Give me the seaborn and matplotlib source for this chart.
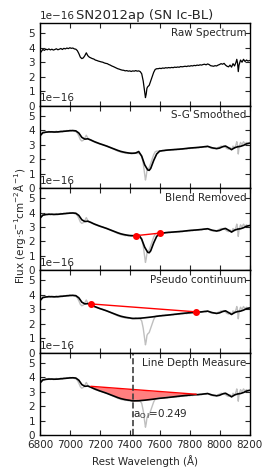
import numpy as np
import seaborn as sns
import matplotlib
matplotlib.use("Agg")
import matplotlib.pyplot as plt
from matplotlib.ticker import MultipleLocator

# raw spectrum (flux in 1e-16 erg/s/cm2/A)
raw_wave = [6800, 6810, 6820, 6830, 6840, 6850, 6860, 6870, 6880, 6890,
            6900, 6910, 6920, 6930, 6940, 6950, 6960, 6970, 6980, 6990,
            7000, 7010, 7020, 7030, 7040, 7050, 7060, 7070, 7080, 7090,
            7100, 7110, 7120, 7130, 7140, 7150, 7160, 7170, 7180, 7190,
            7200, 7210, 7220, 7230, 7240, 7250, 7260, 7270, 7280, 7290,
            7300, 7310, 7320, 7330, 7340, 7350, 7360, 7370, 7380, 7390,
            7400, 7410, 7420, 7430, 7440, 7450, 7460, 7470, 7480, 7490,
            7500, 7505, 7510, 7515, 7520, 7530, 7540, 7550, 7560, 7570,
            7580, 7590, 7600, 7610, 7620, 7630, 7640, 7650, 7660, 7670,
            7680, 7690, 7700, 7710, 7720, 7730, 7740, 7750, 7760, 7770,
            7780, 7790, 7800, 7810, 7820, 7830, 7840, 7850, 7860, 7870,
            7880, 7890, 7900, 7910, 7920, 7930, 7940, 7950, 7960, 7970,
            7980, 7990, 8000, 8010, 8020, 8030, 8040, 8050, 8060, 8070,
            8080, 8090, 8100, 8110, 8115, 8120, 8125, 8130, 8140, 8150,
            8160, 8170, 8180, 8190, 8200]
raw_flux = [3.60, 3.75, 3.88, 3.82, 3.90, 3.86, 3.92, 3.85, 3.90, 3.84,
            3.88, 3.93, 3.86, 3.90, 3.95, 3.88, 3.96, 3.92, 3.98, 3.94,
            4.00, 3.96, 3.98, 3.92, 3.90, 3.80, 3.60, 3.35, 3.25, 3.30,
            3.45, 3.65, 3.45, 3.35, 3.30, 3.25, 3.22, 3.15, 3.12, 3.08,
            3.05, 3.02, 3.00, 2.95, 2.92, 2.90, 2.84, 2.80, 2.74, 2.70,
            2.65, 2.60, 2.55, 2.52, 2.48, 2.45, 2.44, 2.40, 2.42, 2.38,
            2.40, 2.36, 2.40, 2.38, 2.42, 2.38, 2.40, 2.35, 2.20, 1.70,
            0.90, 0.55, 0.80, 1.20, 1.30, 1.40, 1.70, 2.00, 2.30, 2.50,
            2.55, 2.55, 2.58, 2.56, 2.60, 2.58, 2.62, 2.60, 2.63, 2.61,
            2.64, 2.62, 2.66, 2.64, 2.67, 2.65, 2.70, 2.68, 2.70, 2.72,
            2.70, 2.74, 2.72, 2.76, 2.74, 2.78, 2.76, 2.80, 2.78, 2.82,
            2.80, 2.84, 2.86, 2.82, 2.88, 2.84, 2.76, 2.74, 2.72, 2.76,
            2.74, 2.80, 2.84, 2.90, 2.86, 2.92, 2.80, 2.72, 2.68, 2.80,
            2.66, 2.90, 2.74, 3.00, 3.20, 2.95, 2.35, 2.80, 3.15, 3.00,
            3.20, 3.05, 3.15, 3.08, 3.12]

# Savitzky-Golay smoothed spectrum
sg_wave = [6800, 6820, 6840, 6860, 6880, 6900, 6920, 6940, 6960, 6980,
           7000, 7020, 7040, 7060, 7080, 7100, 7120, 7140, 7160, 7180,
           7200, 7220, 7240, 7260, 7280, 7300, 7320, 7340, 7360, 7380,
           7400, 7420, 7440, 7460, 7480, 7500, 7520, 7530, 7540, 7560,
           7580, 7600, 7620, 7650, 7700, 7750, 7800, 7850, 7880, 7920,
           7950, 7980, 8000, 8020, 8040, 8060, 8080, 8100, 8120, 8140,
           8160, 8180, 8200]
sg_flux = [3.60, 3.82, 3.86, 3.88, 3.88, 3.87, 3.88, 3.90, 3.92, 3.94,
           3.96, 3.97, 3.95, 3.80, 3.50, 3.38, 3.40, 3.32, 3.22, 3.14,
           3.06, 2.99, 2.92, 2.84, 2.76, 2.68, 2.60, 2.53, 2.48, 2.44,
           2.41, 2.40, 2.42, 2.52, 2.20, 1.60, 1.25, 1.22, 1.35, 1.90,
           2.35, 2.55, 2.58, 2.62, 2.66, 2.70, 2.76, 2.80, 2.83, 2.88,
           2.78, 2.72, 2.76, 2.85, 2.90, 2.78, 2.65, 2.78, 2.85, 2.88,
           2.95, 3.05, 3.10]

# feature with the blend removed
blend_wave = [7440, 7460, 7480, 7500, 7520, 7530, 7540, 7560, 7580, 7604]
blend_flux = [2.40, 2.45, 2.15, 1.60, 1.25, 1.22, 1.35, 1.90, 2.35, 2.58]

# pseudo continuum end points
pc_wave = [7140, 7844]
pc_flux = [3.38, 2.83]

# spectrum under the continuum once the feature is fitted out
fit_wave = [7420, 7460, 7500, 7550, 7600, 7650, 7700, 7750, 7800, 7844]
fit_flux = [2.37, 2.38, 2.42, 2.48, 2.55, 2.60, 2.66, 2.72, 2.77, 2.81]

depth_wave = 7420
depth_label = r"a$_{\rm O\,I}$=0.249"
panel_names = ["Raw Spectrum", "S-G Smoothed", "Blend Removed",
               "Pseudo continuum", "Line Depth Measure"]

sns.set_style("ticks")
plt.rcParams.update({
    "font.family": ["DejaVu Sans"],
    "xtick.direction": "in", "ytick.direction": "in",
    "xtick.top": True, "ytick.right": True,
    "xtick.labelsize": 7.5, "ytick.labelsize": 7.5,
    "xtick.major.size": 3.5, "ytick.major.size": 3.5,
    "axes.linewidth": 1.0, "axes.edgecolor": "black",
})

scale = 1e-16
sg_w = np.array(sg_wave)
sg_f = np.array(sg_flux)

# blend removed: smoothed curve with the blended segment swapped
out = (sg_w < blend_wave[0]) | (sg_w > blend_wave[-1])
br_w = np.concatenate([sg_w[out & (sg_w < blend_wave[0])], blend_wave,
                       sg_w[out & (sg_w > blend_wave[-1])]])
br_f = np.concatenate([sg_f[out & (sg_w < blend_wave[0])], blend_flux,
                       sg_f[out & (sg_w > blend_wave[-1])]])

# pseudo continuum panel: feature replaced by fitted trough
lo = sg_w < fit_wave[0]
hi = sg_w > fit_wave[-1]
fc_w = np.concatenate([sg_w[lo], fit_wave, sg_w[hi]])
fc_f = np.concatenate([sg_f[lo], fit_flux, sg_f[hi]])

fig, axes = plt.subplots(5, 1, sharex=True, figsize=(2.66, 4.73), dpi=100)
fig.subplots_adjust(left=0.150, right=0.938, bottom=0.080, top=0.951, hspace=0)

gray = "0.75"
for i, ax in enumerate(axes):
    if i == 0:
        sns.lineplot(x=raw_wave, y=np.array(raw_flux) * scale, ax=ax,
                     color="black", lw=0.9, sort=False, estimator=None)
    else:
        sns.lineplot(x=raw_wave, y=np.array(raw_flux) * scale, ax=ax,
                     color=gray, lw=1.0, sort=False, estimator=None)
    if i == 1:
        sns.lineplot(x=sg_w, y=sg_f * scale, ax=ax, color="black", lw=1.2,
                     sort=False, estimator=None)
    elif i == 2:
        sns.lineplot(x=br_w, y=br_f * scale, ax=ax, color="black", lw=1.2,
                     sort=False, estimator=None)
        ax.plot([blend_wave[0], blend_wave[-1]],
                [blend_flux[0] * scale, blend_flux[-1] * scale],
                color="red", lw=1.0, marker="o", ms=4, mec="red")
    elif i >= 3:
        sns.lineplot(x=fc_w, y=fc_f * scale, ax=ax, color="black", lw=1.2,
                     sort=False, estimator=None)
        if i == 3:
            ax.plot(pc_wave, np.array(pc_flux) * scale, color="red", lw=1.0,
                    marker="o", ms=4, mec="red")
        else:
            m = (fc_w >= pc_wave[0]) & (fc_w <= pc_wave[-1])
            xs = np.concatenate([[pc_wave[0]], fc_w[m], [pc_wave[-1]]])
            ys = np.concatenate([[pc_flux[0]], fc_f[m], [pc_flux[-1]]])
            cont = np.interp(xs, pc_wave, pc_flux)
            ax.fill_between(xs, ys * scale, cont * scale, color="red",
                            alpha=0.5, lw=0)
            ax.plot(pc_wave, np.array(pc_flux) * scale, color="red", lw=1.0)
            ax.axvline(depth_wave, color="0.25", ls="--", lw=1.2)
            ax.text(depth_wave, 1.45 * scale, depth_label, fontsize=7.5,
                    ha="left", va="center")

    ax.set_xlim(6800, 8200)
    ax.set_ylim(0, 5.7 * scale)
    ax.xaxis.set_major_locator(MultipleLocator(200))
    ax.yaxis.set_major_locator(MultipleLocator(1 * scale))
    ax.yaxis.get_offset_text().set_fontsize(7.5)
    ax.set_xlabel("")
    ax.set_ylabel("")
    ax.text(0.985, 0.88, panel_names[i], transform=ax.transAxes,
            ha="right", va="center", fontsize=7.5)

axes[0].set_title("SN2012ap (SN Ic-BL)", fontsize=9.5, pad=3)
axes[-1].set_xlabel("Rest Wavelength (\u00c5)", fontsize=7.5, labelpad=4)
fig.text(0.075, 0.522, "Flux (erg\u00b7s$^{-1}$cm$^{-2}$\u00c5$^{-1}$)",
         rotation=90, ha="center", va="center", fontsize=7.5)

fig.savefig("out.png", dpi=100)
